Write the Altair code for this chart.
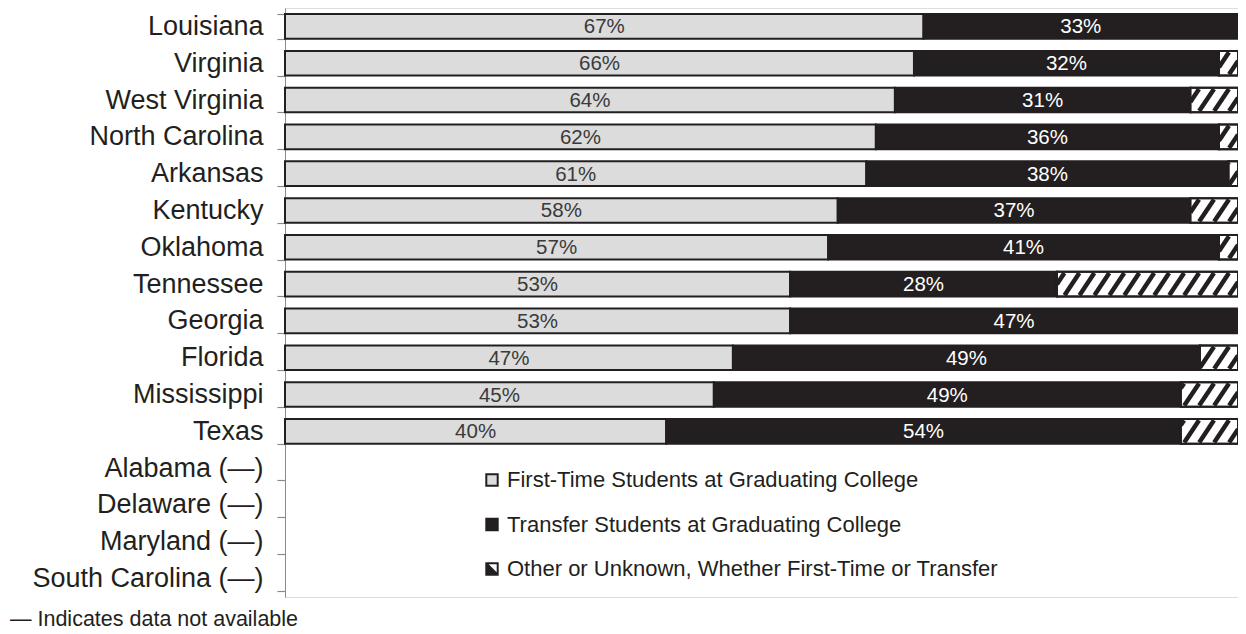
import altair as alt
import pandas as pd

states = ["Louisiana", "Virginia", "West Virginia", "North Carolina", "Arkansas",
          "Kentucky", "Oklahoma", "Tennessee", "Georgia", "Florida", "Mississippi",
          "Texas", "Alabama (—)", "Delaware (—)", "Maryland (—)", "South Carolina (—)"]
first_time = [67, 66, 64, 62, 61, 58, 57, 53, 53, 47, 45, 40]
transfer = [33, 32, 31, 36, 38, 37, 41, 28, 47, 49, 49, 54]
other = [0, 2, 5, 2, 1, 5, 2, 19, 0, 4, 6, 6]

series = ["First-Time Students at Graduating College",
          "Transfer Students at Graduating College",
          "Other or Unknown, Whether First-Time or Transfer"]
series_colors = ["#dcdcdc", "#231f20", "#ffffff"]

FONT = "Liberation Sans"
DARK = "#231f20"

rows = []
for i in range(len(first_time)):
    vals = [first_time[i], transfer[i], other[i]]
    start = 0
    for s_name, v in zip(series, vals):
        if v > 0:
            rows.append(dict(state=states[i], series=s_name, start=start, end=start + v,
                             mid=start + v / 2, label=f"{v}%"))
        start += v
df = pd.DataFrame(rows)

# hatch strokes for the "other" segments (derived from segment bounds)
h, sp, d = 0.30, 1.57, 1.55
hrows = []
for i in range(len(first_time)):
    if other[i] == 0:
        continue
    a = first_time[i] + transfer[i]
    b = a + other[i]
    c = i + 0.5
    k = 0
    while True:
        x0 = b - d * 0.6 - k * sp
        if x0 + d <= a:
            break
        t0 = max(0.0, (a - x0) / d)
        t1 = min(1.0, (b - x0) / d)
        if t1 > t0:
            hrows.append(dict(hx=x0 + d * t0, hx2=x0 + d * t1,
                              hy=c + h - 2 * h * t0, hy2=c + h - 2 * h * t1))
        k += 1
hdf = pd.DataFrame(hrows)

xscale = alt.Scale(domain=[0, 100], nice=False, zero=False)
yband = alt.Scale(domain=states, paddingInner=0.33, paddingOuter=0.165)

other_name = series[2]
half_path = "M-1,-1L1,-1L1,1L-1,1Z" + "".join(
    f"M-1,{-1 + t / 10:.2f}L{1 - t / 10:.2f},1" for t in range(0, 20, 2))
legend = alt.Legend(
    orient="none", legendX=196, legendY=461, direction="vertical", title=None,
    labelFont=FONT, labelFontSize=22, labelColor=DARK, labelOffset=4,
    symbolType=alt.ExprRef(expr=f"datum.value === '{other_name}' ? '{half_path}' : 'square'"),
    symbolSize=130, symbolStrokeColor=DARK, symbolStrokeWidth=2,
    rowPadding=22.5, padding=0, labelLimit=600,
)

base = alt.Chart(df)

bars = base.mark_bar(stroke=DARK, strokeWidth=2).encode(
    x=alt.X("start:Q", scale=xscale, axis=None),
    x2="end:Q",
    y=alt.Y("state:N", scale=yband, sort=states, title=None,
            axis=alt.Axis(labelFont=FONT, labelFontSize=27, labelColor=DARK,
                          tickBand="extent", tickSize=8, tickColor="#8a8a8a", tickWidth=1.2,
                          domainColor="#8a8a8a", labelPadding=14, labelLimit=400)),
    color=alt.Color("series:N", scale=alt.Scale(domain=series, range=series_colors),
                    sort=series, legend=legend),
)

text_first = base.transform_filter(alt.datum.series == series[0]).mark_text(
    font=FONT, fontSize=20.5, color="#3a3a3a", align="center", baseline="middle", dy=1
).encode(
    x=alt.X("mid:Q", scale=xscale, axis=None),
    y=alt.Y("state:N", scale=yband, sort=states, axis=None),
    text="label:N",
)
text_transfer = base.transform_filter(alt.datum.series == series[1]).mark_text(
    font=FONT, fontSize=20.5, color="#ffffff", align="center", baseline="middle", dy=1
).encode(
    x=alt.X("mid:Q", scale=xscale, axis=None),
    y=alt.Y("state:N", scale=yband, sort=states, axis=None),
    text="label:N",
)

hatch = alt.Chart(hdf).mark_rule(color=DARK, strokeWidth=4.5).encode(
    x=alt.X("hx:Q", scale=xscale, axis=None),
    x2="hx2:Q",
    y=alt.Y("hy:Q", scale=alt.Scale(domain=[0, len(states)], reverse=True, nice=False, zero=False), axis=None),
    y2="hy2:Q",
)

outline = base.transform_filter(alt.datum.series == other_name).mark_bar(
    fillOpacity=0, stroke=DARK, strokeWidth=2
).encode(
    x=alt.X("start:Q", scale=xscale, axis=None),
    x2="end:Q",
    y=alt.Y("state:N", scale=yband, sort=states, axis=None),
)

chart = alt.layer(bars, text_first, text_transfer, hatch, outline).resolve_scale(
    y="independent"
).properties(
    width=953, height=589,
    autosize=alt.AutoSizeParams(type="none"),
    padding={"left": 277, "top": 0, "right": 0, "bottom": 36},
    title=alt.TitleParams("— Indicates data not available", orient="bottom", anchor="start",
                          frame="group", font=FONT, fontSize=21.5, fontWeight="normal",
                          color=DARK, dx=-275, offset=12),
).configure_view(stroke=None).configure(background="white")

chart.save("out.html", embed_options={"renderer": "svg", "actions": False})
